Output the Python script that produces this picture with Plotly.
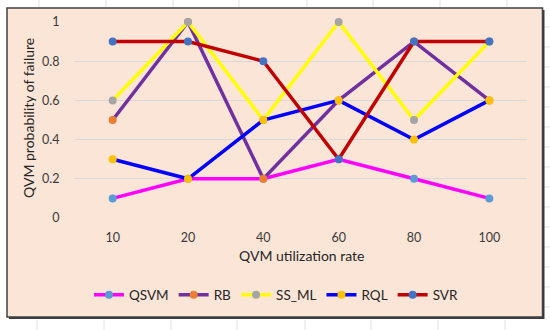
import plotly.graph_objects as go

categories = ["10", "20", "40", "60", "80", "100"]
series_names = ["QSVM", "RB", "SS_ML", "RQL", "SVR"]
qsvm = [0.1, 0.2, 0.2, 0.3, 0.2, 0.1]
rb = [0.5, 1.0, 0.2, 0.6, 0.9, 0.6]
ss_ml = [0.6, 1.0, 0.5, 1.0, 0.5, 0.9]
rql = [0.3, 0.2, 0.5, 0.6, 0.4, 0.6]
svr = [0.9, 0.9, 0.8, 0.3, 0.9, 0.9]
y_ticks = [0, 0.2, 0.4, 0.6, 0.8, 1.0]
y_tick_labels = ["0", "0.2", "0.4", "0.6", "0.8", "1"]

values = [qsvm, rb, ss_ml, rql, svr]
line_colors = ["#FF00FF", "#7030A0", "#FFFF00", "#0000FF", "#C00000"]
marker_colors = ["#5B9BD5", "#ED7D31", "#A5A5A5", "#FFC000", "#4472C4"]

W, H = 550, 330
L, R, T, B = 75, 23, 22, 112
PW, PH = W - L - R, H - T - B

def px(x):
    return (x - L) / PW

def py(y):
    return (H - B - y) / PH

FONT = "Lato, Carlito, Calibri, sans-serif"
TXT = "#3A3A3A"

fig = go.Figure()
for name, vals, lc, mc in zip(series_names, values, line_colors, marker_colors):
    fig.add_trace(go.Scatter(
        x=categories, y=vals, name=name, mode="lines+markers",
        line=dict(color=lc, width=3.5),
        marker=dict(color=mc, size=8),
        cliponaxis=False,
    ))

shapes = []
# faint spreadsheet cell marks outside the chart box
for xv in [39, 106, 173, 239, 307, 373, 440, 507]:
    shapes.append(dict(type="line", xref="paper", yref="paper",
                       x0=px(xv), x1=px(xv), y0=py(0), y1=py(7),
                       line=dict(color="#E2E2E2", width=1), layer="below"))
    shapes.append(dict(type="line", xref="paper", yref="paper",
                       x0=px(xv - 2), x1=px(xv - 2), y0=py(320), y1=py(330),
                       line=dict(color="#E2E2E2", width=1), layer="below"))
for yv in range(27, 320, 20):
    shapes.append(dict(type="line", xref="paper", yref="paper",
                       x0=px(544), x1=px(550), y0=py(yv), y1=py(yv),
                       line=dict(color="#E2E2E2", width=1), layer="below"))
# shadow
shapes.append(dict(type="rect", xref="paper", yref="paper",
                   x0=px(9), x1=px(544.5), y0=py(10), y1=py(319),
                   fillcolor="#3A3A3A", line=dict(width=0), layer="below"))
# chart box
shapes.append(dict(type="rect", xref="paper", yref="paper",
                   x0=px(7), x1=px(542.5), y0=py(8), y1=py(317),
                   fillcolor="#FBE5D6", line=dict(color="#404040", width=1.5),
                   layer="below"))

fig.update_layout(
    width=W, height=H,
    margin=dict(l=L, r=R, t=T, b=B, autoexpand=False),
    paper_bgcolor="white",
    plot_bgcolor="rgba(0,0,0,0)",
    font=dict(family=FONT, color=TXT),
    shapes=shapes,
    showlegend=True,
    legend=dict(orientation="h", x=px(276), xanchor="center",
                y=py(295), yanchor="middle",
                font=dict(size=13.5, color="#262626", family=FONT),
                bgcolor="rgba(0,0,0,0)"),
    annotations=[
        dict(text="QVM utilization rate", xref="paper", yref="paper",
             x=px(301), y=py(256), xanchor="center", yanchor="middle",
             showarrow=False, font=dict(size=14, color="#262626", family=FONT)),
        dict(text="QVM probability of failure", xref="paper", yref="paper",
             x=px(28), y=py(118), xanchor="center", yanchor="middle",
             textangle=-90,
             showarrow=False, font=dict(size=14, color="#262626", family=FONT)),
    ],
)
fig.update_xaxes(type="category", range=[-0.5, 5.5], showgrid=False,
                 showline=False, zeroline=False,
                 ticks="outside", ticklen=8, tickcolor="rgba(0,0,0,0)",
                 tickfont=dict(size=12.5, color=TXT, family=FONT))
fig.update_yaxes(range=[0, 1], tickvals=y_ticks, ticktext=y_tick_labels,
                 showgrid=True, gridcolor="#D9D9D9", gridwidth=1,
                 zeroline=False, showline=False,
                 ticks="outside", ticklen=12, tickcolor="rgba(0,0,0,0)",
                 tickfont=dict(size=12.5, color=TXT, family=FONT))

fig.write_html("out.html", config={"displayModeBar": False},
               post_script="document.body.style.margin='0';document.body.style.overflow='hidden';")
